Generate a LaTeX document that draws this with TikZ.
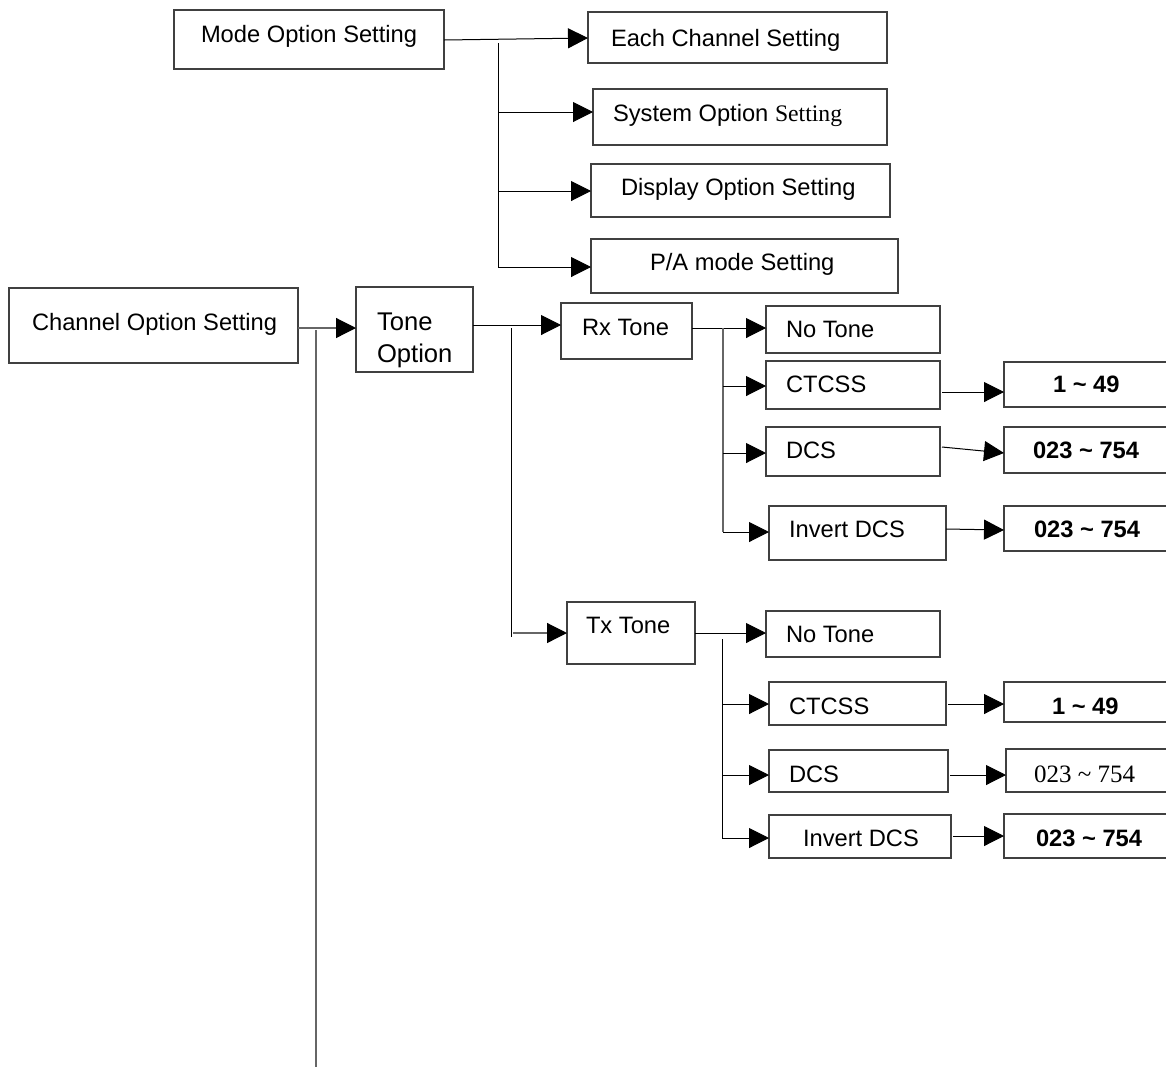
\documentclass[tikz,border=0pt]{standalone}
\usepackage{fontspec}
\setmainfont{Liberation Sans}
\newfontfamily\tnr{Liberation Serif}
\usetikzlibrary{arrows.meta,calc}
\tikzset{
 boxst/.style={draw=black!75, line width=1.1pt, inner sep=0pt, outer sep=0pt},
 txt/.style={inner sep=0pt, outer sep=0pt, anchor=base west, font=\fontsize{23.7}{28}\selectfont},
 btxt/.style={txt, font=\fontsize{23.7}{28}\selectfont\bfseries},
 conn/.style={draw=black, line width=1pt},
 gconn/.style={draw=black!60, line width=1.2pt},
 arr/.style={conn, -{Triangle[length=20pt,width=20pt]}},
 garr/.style={gconn, -{Triangle[length=20pt,width=20pt,color=black]}},
}
\newcommand\mybox[5]{\node[boxst, anchor=north west, minimum width={#4pt-#2pt}, minimum height={#5pt-#3pt}] (#1) at (#2,#3) {};}
\begin{document}
\begin{tikzpicture}[x=1pt,y=-1pt]
\useasboundingbox[fill=white] (0,0) rectangle (1166,1066);
% boxes
\mybox{mode}{174}{10}{444}{69}
\mybox{each}{588}{12}{887}{63}
\mybox{sys}{593}{89}{887}{145}
\mybox{disp}{591}{164}{890}{217}
\mybox{pa}{591}{239}{898}{293}
\mybox{chan}{9}{288}{298}{363}
\mybox{tone}{356}{287}{473}{372}
\mybox{rx}{561}{303}{692}{359}
\mybox{tx}{567}{602}{695}{664}
\mybox{rnt}{766}{306}{940}{353}
\mybox{rct}{766}{361}{940}{409}
\mybox{rdcs}{766}{427}{940}{476}
\mybox{rinv}{769}{506}{946}{560}
\mybox{rva}{1004}{362}{1190}{407}
\mybox{rvb}{1004}{427}{1190}{473}
\mybox{rvc}{1004}{506}{1190}{551}
\mybox{tnt}{766}{611}{940}{657}
\mybox{tct}{769}{682}{946}{725}
\mybox{tdcs}{769}{750}{948}{792}
\mybox{tinv}{769}{815}{951}{858}
\mybox{tva}{1004}{682}{1190}{722}
\mybox{tvb}{1006}{749}{1190}{792}
\mybox{tvc}{1004}{814}{1190}{858}
% texts
\node[txt] (modet) at (201,42) {Mode Option Setting};
\node[txt] (eacht) at (611,46) {Each Channel Setting};
\node[txt] (syst) at (613,121) {System Option {\tnr Setting}};
\node[txt] (dispt) at (621,195) {Display Option Setting};
\node[txt] (pat) at (650,270) {P/A mode Setting};
\node[txt] (chant) at (32,330) {Channel Option Setting};
\node[txt, font=\fontsize{25.6}{30}\selectfont] (tonet) at (377,330) {Tone};
\node[txt, font=\fontsize{25.6}{30}\selectfont] (tonet2) at (377,362) {Option};
\node[txt] (rxt) at (582,335) {Rx Tone};
\node[txt] (txt1) at (586,633) {Tx Tone};
\node[txt] (rntt) at (786,337) {No Tone};
\node[txt] (rctt) at (786,392) {CTCSS};
\node[txt] (rdcst) at (786,458) {DCS};
\node[txt] (rinvt) at (789,537) {Invert DCS};
\node[btxt] (rvat) at (1053,392) {1 \textasciitilde{} 49};
\node[btxt] (rvbt) at (1033,458) {023 \textasciitilde{} 754};
\node[btxt] (rvct) at (1034,537) {023 \textasciitilde{} 754};
\node[txt] (tntt) at (786,642) {No Tone};
\node[txt] (tctt) at (789,714) {CTCSS};
\node[txt] (tdcst) at (789,782) {DCS};
\node[txt] (tinvt) at (803,846) {Invert DCS};
\node[btxt] (tvat) at (1052,714) {1 \textasciitilde{} 49};
\node[txt, font=\fontsize{25}{28}\selectfont\tnr] (tvbt) at (1034,782) {023 \textasciitilde{} 754};
\node[btxt] (tvct) at (1036,846) {023 \textasciitilde{} 754};
% mode connectors
\draw[arr] ($(mode.east)+(0,0.5)$) -- ($(each.west)+(0,0.5)$);
\coordinate (ms1) at (498,43);
\coordinate (ms2) at (498,112);
\coordinate (ms3) at (498,191);
\coordinate (ms4) at (498,267);
\draw[conn] (ms1) -- (ms4);
\draw[arr] (ms2) -- (ms2 -| sys.west);
\draw[arr] (ms3) -- (ms3 -| disp.west);
\draw[arr] (ms4) -- (ms4 -| pa.west);
% channel connectors
\coordinate (ce) at ($(chan.east)+(0,2.5)$);
\draw[garr] (ce) -- (ce -| tone.west);
\coordinate (cs1) at (316,330);
\coordinate (cs2) at (316,1070);
\draw[gconn] (cs1) -- (cs2);
% tone connectors
\coordinate (te) at ($(tone.east)+(0,-4.5)$);
\draw[arr] (te) -- (te -| rx.west);
\coordinate (ts1) at (511,328);
\coordinate (ts2) at (511,637);
\draw[conn] (ts1) -- (ts2);
\coordinate (tb) at (513,633);
\draw[garr] (tb) -- (tb -| tx.west);
% rx connectors
\coordinate (re) at ($(rx.east)+(0,-3)$);
\draw[arr] (re) -- (re -| rnt.west);
\coordinate (rs1) at (723,328);
\coordinate (rs2) at (723,386);
\coordinate (rs3) at (723,453);
\coordinate (rs4) at (723,532);
\draw[gconn] (rs1) -- (rs4);
\draw[arr] (rs2) -- (rs2 -| rct.west);
\draw[arr] (rs3) -- (rs3 -| rdcs.west);
\draw[arr] (rs4) -- (rs4 -| rinv.west);
\draw[arr] ($(rct.east)+(2,7)$) -- ($(rva.west)+(0,7.5)$);
\draw[arr] ($(rdcs.east)+(2,-4.5)$) -- ($(rvb.west)+(0,3)$);
\draw[arr] ($(rinv.east)+(0,-4)$) -- ($(rvc.west)+(0,1.5)$);
% tx connectors
\coordinate (xe) at (tx.east);
\draw[arr] (xe) -- (xe -| tnt.west);
\coordinate (xs1) at (722,639);
\coordinate (xs2) at (722,704);
\coordinate (xs3) at (722,775);
\coordinate (xs4) at (722,838);
\draw[conn] (xs1) -- (xs4);
\draw[arr] (xs2) -- (xs2 -| tct.west);
\draw[arr] (xs3) -- (xs3 -| tdcs.west);
\draw[arr] (xs4) -- (xs4 -| tinv.west);
\draw[arr] ($(tct.east)+(2,0.5)$) -- ($(tva.west)+(0,2)$);
\draw[arr] ($(tdcs.east)+(2,4)$) -- ($(tvb.west)+(0,4.5)$);
\draw[arr] ($(tinv.east)+(2,-0.5)$) -- (tvc.west);
\end{tikzpicture}
\end{document}
